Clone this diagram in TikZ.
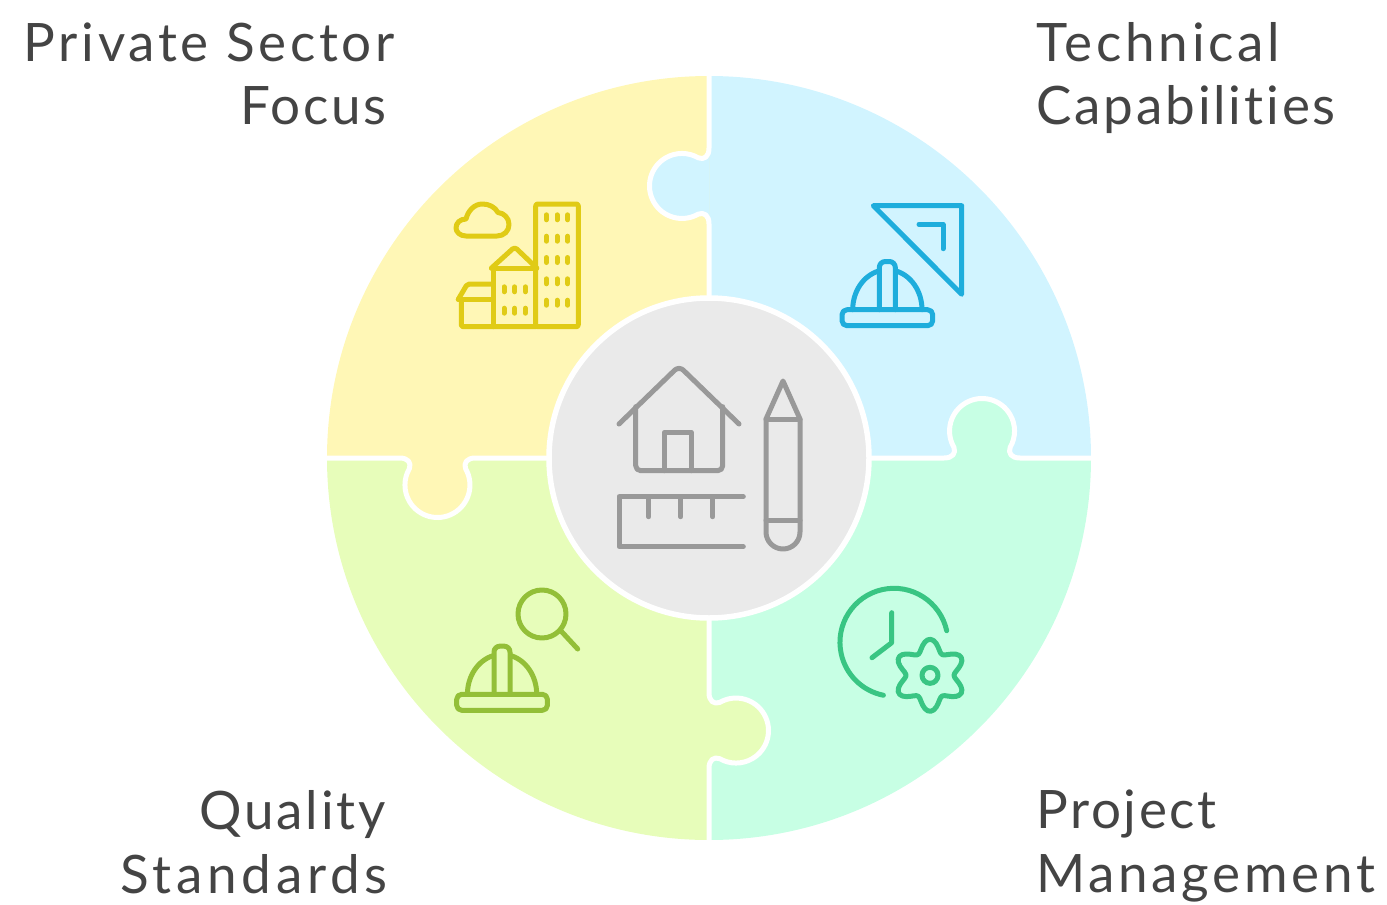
\documentclass[tikz,border=0pt]{standalone}
\usepackage{fontspec}
\setmainfont{Lato}[LetterSpace=7,Ligatures=NoCommon]
\newcommand\spaced[2]{{\addfontfeature{LetterSpace=#1}#2}}
\definecolor{cyellow}{HTML}{FFF7B6}
\definecolor{cblue}{HTML}{D1F4FF}
\definecolor{cmint}{HTML}{C7FFE4}
\definecolor{clime}{HTML}{E7FDBA}
\definecolor{cgrey}{HTML}{EAEAEA}
\definecolor{iyellow}{HTML}{E0CB15}
\definecolor{iblue}{HTML}{1EADDC}
\definecolor{igreen}{HTML}{39C583}
\definecolor{ilime}{HTML}{93BF38}
\definecolor{igrey}{HTML}{999999}
\definecolor{ctext}{HTML}{444444}
\tikzset{
  seamline/.style={draw=white,line width=5pt,line join=round},
  iconline/.style={line width=5pt,line cap=round,line join=round,fill=none},
  lefttext/.style={anchor=east,align=right,inner sep=0pt,text=ctext,font=\fontsize{53}{63.5}\selectfont},
  righttext/.style={anchor=west,align=left,inner sep=0pt,text=ctext,font=\fontsize{53}{63.5}\selectfont}
}
\newcommand\tabcurve{(0,-38) .. controls (0,-29) and (5,-26) .. (10.75,-28.1) arc[start angle=-120,end angle=120,radius=32.5] .. controls (5,26) and (0,29) .. (0,38)}
\newcommand\seamwithtab[4]{%
  \begin{scope}[shift={(#1,#2)},rotate=#3]
    \fill[#4] \tabcurve -- cycle;
    \draw[seamline] (0,-150) -- \tabcurve -- (0,150);
  \end{scope}}
\newcommand\helmet[3]{%
  \begin{scope}[shift={(#1,#2)},iconline,draw=#3]
    \draw[rounded corners=5pt] (842,309.7) rectangle (932.7,325.7);
    \draw (852.7,309.7) arc[start angle=180,end angle=255,x radius=34.7,y radius=40];
    \draw (922,309.7) arc[start angle=0,end angle=-75,x radius=34.7,y radius=40];
    \draw[rounded corners=6pt] (879.3,309.7) -- (879.3,261.5) -- (895.3,261.5) -- (895.3,309.7);
  \end{scope}}
\begin{document}
\begin{tikzpicture}[x=1pt,y=1pt,yscale=-1]
\path[use as bounding box] (0,0) rectangle (1387,905);
% quadrants
\fill[cblue] (709,458) -- (709,76) arc[start angle=-90,end angle=0,radius=382] -- cycle;
\fill[cmint] (709,458) -- (1091,458) arc[start angle=0,end angle=90,radius=382] -- cycle;
\fill[clime] (709,458) -- (709,840) arc[start angle=90,end angle=180,radius=382] -- cycle;
\fill[cyellow] (709,458) -- (327,458) arc[start angle=180,end angle=270,radius=382] -- cycle;
% seams
\seamwithtab{709}{186}{180}{cblue}
\seamwithtab{982}{458}{-90}{cmint}
\seamwithtab{437.5}{458}{90}{cyellow}
\seamwithtab{709}{730.5}{0}{clime}
% centre
\draw[fill=cgrey,draw=white,line width=5.5pt] (709,458) circle[radius=160];
% grey icon
\begin{scope}[iconline,draw=igrey]
  \draw[rounded corners=6pt] (619,424) -- (679,366) -- (739,424);
  \draw[rounded corners=5pt] (635.7,406.7) -- (635.7,470.7) -- (722.7,470.7) -- (722.7,406.7);
  \draw (664.3,470.7) -- (664.3,432.3) -- (691.3,432.3) -- (691.3,470.7);
  \draw (743.3,496.7) -- (619,496.7) -- (619,546.7) -- (743.3,546.7);
  \draw (648.7,496.7) -- (648.7,516.7);
  \draw (680.7,496.7) -- (680.7,516.7);
  \draw (712.7,496.7) -- (712.7,516.7);
  \draw (766,532) -- (766,419) -- (783,381) -- (800,419) -- (800,532) arc[start angle=0,end angle=180,radius=17];
  \draw (766,419) -- (800,419);
  \draw (766,520) -- (800,520);
\end{scope}
% yellow icon
\begin{scope}[iconline,draw=iyellow]
  \draw[rounded corners=2pt] (535.7,204) rectangle (578.3,326.7);
  \draw[rounded corners=2pt] (535.7,326.7) -- (461.3,326.7) -- (461.3,299.3);
  \draw (493.3,326.7) -- (493.3,268);
  \draw (491.5,268) -- (536.7,268);
  \draw[rounded corners=3pt] (491.5,268) -- (514.7,247) -- (536.7,268);
  \draw (458.3,299.3) -- (493.3,299.3);
  \draw[rounded corners=2pt] (458.3,299.3) -- (467.3,284) -- (493.3,284);
  \foreach \x in {546.3,557,567.7} \foreach \y in {217.3,238.7,260,281.3,302.7}
    \draw (\x,\y-2.5) -- (\x,\y+2.5);
  \foreach \x in {504,514.7,525.3} \foreach \y in {289.3,310.7}
    \draw (\x,\y-2.5) -- (\x,\y+2.5);
  \draw (466,236) -- (497,236) .. controls (504,236) and (509,231) .. (509,224.5) .. controls (509,218) and (504,213) .. (498,212.5) .. controls (495,207) and (489,204) .. (482.5,204) .. controls (474,204) and (468,211) .. (466,219) .. controls (460,219) and (456,223) .. (456,228) .. controls (456,232) and (460,236) .. (466,236) -- cycle;
\end{scope}
% blue icon
\begin{scope}[iconline,draw=iblue]
  \draw (873.3,205.7) -- (961.7,205.7) -- (961.7,294.3) -- cycle;
  \draw (919,224.3) -- (943,224.3) -- (943,248.7);
\end{scope}
\helmet{0}{0}{iblue}
% lime icon
\helmet{-385.3}{384.6}{ilime}
\begin{scope}[iconline,draw=ilime]
  \draw (542,614) circle[radius=24];
  \draw (561.7,631.7) -- (577.7,649);
\end{scope}
% green icon
\begin{scope}[iconline,draw=igreen]
  \draw (946.7,630.7) arc[start angle=-12.4,end angle=-258.7,radius=54];
  \draw (891.7,612.7) -- (891.7,642.7) -- (872,657.7);
  \draw (930,675.3) circle[radius=8];
  \draw[shift={(930,675.3)}] plot[smooth cycle,samples=73,domain=0:355] ({(30+6*cos(6*(\x+90)))*cos(\x)},{(30+6*cos(6*(\x+90)))*sin(\x)});
\end{scope}
% labels
\node[lefttext] (focus) at (395,74) {Private Sector\\\spaced{5}{Focus}\hspace*{8pt}};
\node[righttext] (tech) at (1036,78) {Technical\\\spaced{5.4}{Capabilities}};
\node[lefttext] (quality) at (388,842) {\spaced{5.4}{Quality}\hspace*{2pt}\\\spaced{9}{Standards}};
\node[righttext] (manage) at (1036,846) {\spaced{5}{Project}\\Management};
\end{tikzpicture}
\end{document}
